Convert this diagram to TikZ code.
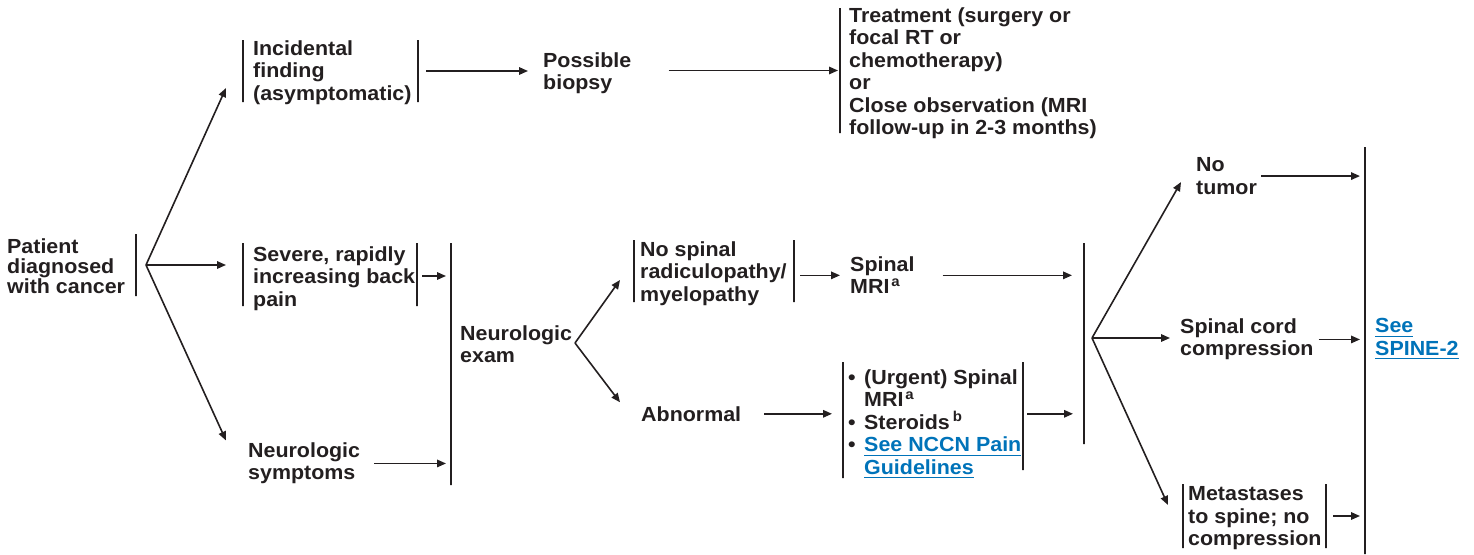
\documentclass[tikz,border=0pt]{standalone}
\usepackage{fontspec}
\setmainfont[FakeStretch=1.05]{Liberation Sans}
\usetikzlibrary{arrows.meta,calc}
\definecolor{ink}{RGB}{35,31,32}
\definecolor{linkblue}{RGB}{0,115,185}
\newsavebox{\lnkbox}
\newcommand{\lnk}[1]{\begingroup\color{linkblue}\sbox{\lnkbox}{#1}\rlap{\rule[-4pt]{\wd\lnkbox}{1.4pt}}\usebox{\lnkbox}\endgroup}
\newcommand{\bul}{\makebox[16pt][l]{\textbullet}}
\newcommand{\ind}{\hspace*{16pt}}
\begin{document}
\begin{tikzpicture}[x=1pt,y=-1pt,
  txt/.style={anchor=north west, align=left, inner sep=0pt, text=ink, yshift=-2pt,
    font=\bfseries\fontsize{20.4}{22.5}\selectfont,
    execute at begin node={\rule{0pt}{16pt}}},
  vbar/.style={draw=ink, line width=1.4pt, minimum width=0pt, minimum height=#1, inner sep=0pt, outer sep=0pt},
  arr/.style={draw=ink, line width=1.6pt, -{Triangle[length=9pt,width=7.5pt]}}]
\useasboundingbox (0,0) rectangle (1474,554);

% nodes
\node[vbar=62pt] (pbar) at (136,265) {};
\node[txt, font=\bfseries\fontsize{20.4}{19.8}\selectfont] (patient) at (7,236.5) {Patient\\diagnosed\\with cancer};
\node[vbar=62pt] (incL) at (243,71) {};
\node[txt] (inc) at (253,38.5) {Incidental\\finding\\(asymptomatic)};
\node[vbar=62pt] (incR) at (418,71) {};
\node[txt] (biopsy) at (543,50.5) {Possible\\biopsy};
\node[vbar=125pt] (tbar) at (840,70.5) {};
\node[txt] (treat) at (849,5.5) {Treatment (surgery or\\focal RT or\\chemotherapy)\\or\\Close observation (MRI\\follow-up in 2-3 months)};
\node[vbar=63pt] (sevL) at (243,274.5) {};
\node[txt] (sev) at (253,244.5) {Severe, rapidly\\increasing back\\pain};
\node[vbar=63pt] (sevR) at (417,274.5) {};
\node[vbar=242pt] (nbar) at (451,364) {};
\node[txt] (sympt) at (248,440.5) {Neurologic\\symptoms};
\node[txt] (exam) at (460,323.5) {Neurologic\\exam};
\node[vbar=62pt] (nsL) at (634,271) {};
\node[txt] (nospinal) at (640,239.5) {No spinal\\radiculopathy/\\myelopathy};
\node[vbar=62pt] (nsR) at (794,271) {};
\node[txt] (mri) at (850,254.5) {Spinal\\MRI\hspace{2pt}\textsuperscript{a}};
\node[vbar=201pt] (mbar) at (1084,343.5) {};
\node[txt] (abn) at (641,403.5) {Abnormal};
\node[vbar=116pt] (urgL) at (843,420) {};
\node[txt] (urg) at (848,367.5) {\bul(Urgent) Spinal\\\ind MRI\hspace{2pt}\textsuperscript{a}\\\bul Steroids\hspace{3pt}\textsuperscript{b}\\\bul\lnk{See NCCN Pain}\\\ind\lnk{Guidelines}};
\node[vbar=108pt] (urgR) at (1023,416) {};
\node[txt] (notumor) at (1196,155.5) {No\\tumor};
\node[vbar=407pt] (sbar) at (1365,350.5) {};
\node[txt] (cord) at (1180,316.5) {Spinal cord\\compression};
\node[txt] (spine2) at (1375,316.5) {\lnk{See}\\\lnk{SPINE-2}};
\node[vbar=64pt] (metL) at (1183,516) {};
\node[txt] (met) at (1188,484.5) {Metastases\\to spine; no\\compression};
\node[vbar=64pt] (metR) at (1326,516) {};

\coordinate (pfork) at (146,265);
\coordinate (efork) at (575,343);
\coordinate (mfork) at (1092,338);

% connectors
\draw[arr] (pfork) -- ([xshift=-17pt,yshift=14pt]incL.south);
\draw[arr, shorten >=17pt] (pfork) -- (pfork -| sevL);
\draw[arr] (pfork) -- ([xshift=-22pt,yshift=2pt]sympt.north west);
\draw[arr, shorten <=8pt, shorten >=15pt] (incR.center) -- (incR.center -| biopsy.west);
\draw[arr, shorten <=37pt, shorten >=2pt] (biopsy.east |- tbar.center) -- (tbar.center);
\draw[arr, shorten <=5pt, shorten >=5pt] ([yshift=-1.5pt]sevR.center) -- ([yshift=-1.5pt]sevR.center -| nbar);
\draw[arr, shorten <=14pt, shorten >=5pt] (sympt.east) -- (sympt.east -| nbar);
\draw[arr] (efork) -- ([xshift=-14pt,yshift=-9pt]nsL.center);
\draw[arr] (efork) -- ([xshift=-21pt,yshift=11.5pt]abn.west);
\draw[arr, shorten <=6pt, shorten >=10pt] (nsR.center |- mri.west) -- (mri.west);
\draw[arr, shorten <=28pt, shorten >=12pt] (mri.east) -- (mri.east -| mbar);
\draw[arr, shorten <=23pt, shorten >=11pt] (abn.east) -- (abn.east -| urgL);
\draw[arr, shorten <=4pt, shorten >=11pt] (abn.east -| urgR) -- (abn.east -| mbar);
\draw[arr] (mfork) -- ([xshift=-15pt,yshift=-6pt]notumor.west);
\draw[arr, shorten >=10pt] (mfork) -- (mfork -| cord.west);
\draw[arr] (mfork) -- ([xshift=-15pt,yshift=11pt]metL.center);
\draw[arr, shorten <=4pt, shorten >=5pt] (notumor.east) -- (notumor.east -| sbar);
\draw[arr, shorten <=5pt, shorten >=5pt] (cord.east) -- (cord.east -| sbar);
\draw[arr, shorten <=7pt, shorten >=5pt] (metR.center) -- (metR.center -| sbar);
\end{tikzpicture}
\end{document}
